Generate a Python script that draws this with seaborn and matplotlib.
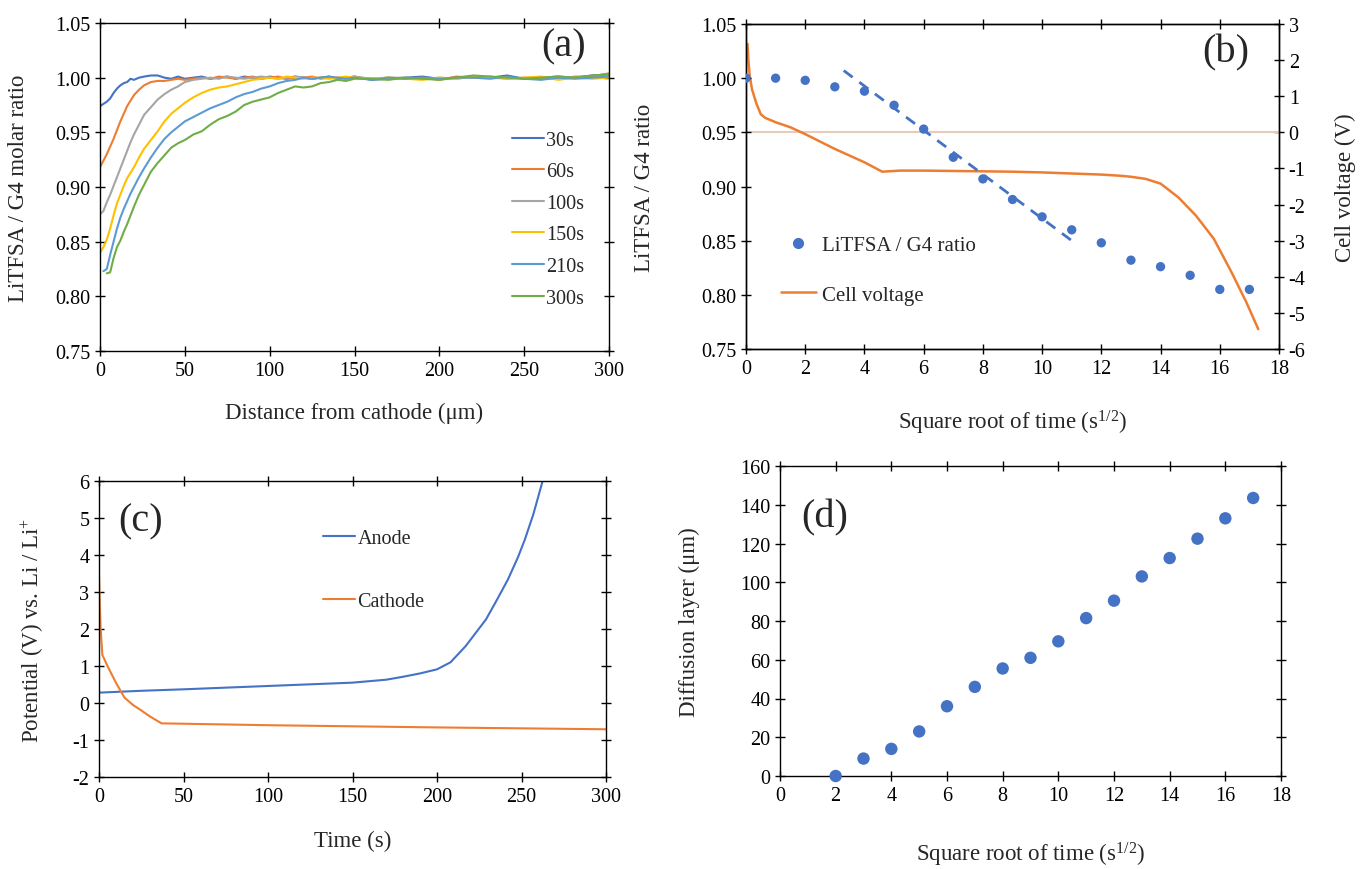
import numpy as np
import pandas as pd
import seaborn as sns
import matplotlib.pyplot as plt

# ---- (a) concentration profiles ----
dist = [0, 2, 4, 6, 8, 10, 12, 14, 16, 18, 20, 23, 26, 30, 34, 38, 42, 46, 50,
        55, 60, 65, 70, 75, 80, 85, 90, 95, 100, 105, 110, 115, 120, 125, 130,
        135, 140, 145, 150, 160, 170, 180, 190, 200, 210, 220, 230, 240, 250,
        260, 270, 280, 290, 300]
r_30s = [0.974, 0.976, 0.978, 0.981, 0.986, 0.990, 0.993, 0.995, 0.996, 0.999, 0.998,
         1.000, 1.001, 1.002, 1.002, 1.000, 0.999, 1.001, 0.999, 1.000, 1.001, 0.999,
         1.000, 1.001, 0.999, 1.001, 1.000, 0.999, 1.001, 1.000, 0.999, 1.001, 1.000,
         0.999, 1.000, 1.001, 0.999, 1.000, 1.001, 0.998, 0.999, 1.000, 1.001, 0.999,
         1.000, 1.001, 1.000, 1.002, 0.999, 1.000, 1.001, 1.000, 1.002, 1.003]
r_60s = [0.918, 0.924, 0.930, 0.937, 0.944, 0.952, 0.960, 0.967, 0.974, 0.979, 0.984,
         0.989, 0.993, 0.996, 0.997, 0.997, 0.998, 0.999, 0.998, 0.999, 1.000, 0.999,
         1.001, 1.000, 0.999, 1.000, 1.001, 0.999, 1.000, 1.001, 0.999, 1.000, 1.000,
         1.001, 0.999, 1.000, 1.000, 0.999, 1.000, 0.999, 1.000, 0.999, 1.000, 0.998,
         1.001, 1.000, 1.001, 0.999, 1.000, 1.000, 0.999, 1.001, 1.001, 1.004]
r_100s = [0.875, 0.878, 0.886, 0.893, 0.901, 0.909, 0.917, 0.925, 0.933, 0.941, 0.948,
          0.957, 0.966, 0.973, 0.980, 0.985, 0.989, 0.992, 0.996, 0.998, 0.999, 1.000,
          0.999, 1.001, 1.000, 0.999, 1.000, 1.001, 1.000, 0.999, 1.000, 1.001, 1.000,
          0.999, 1.000, 1.000, 0.999, 1.000, 1.001, 0.999, 1.000, 1.000, 0.999, 1.000,
          0.999, 1.001, 1.000, 1.000, 0.999, 1.000, 1.001, 1.000, 1.000, 1.002]
r_150s = [0.840, 0.845, 0.852, 0.862, 0.874, 0.885, 0.893, 0.901, 0.908, 0.913, 0.918,
          0.927, 0.935, 0.943, 0.951, 0.960, 0.967, 0.972, 0.977, 0.982, 0.986, 0.989,
          0.991, 0.992, 0.994, 0.996, 0.998, 0.999, 1.000, 0.999, 1.001, 1.000, 0.999,
          1.000, 1.000, 0.999, 1.000, 1.001, 1.000, 0.999, 1.000, 0.999, 0.998, 1.000,
          0.999, 1.001, 1.000, 0.999, 1.000, 1.001, 0.998, 1.000, 0.999, 1.000]
r_210s = [np.nan, 0.823, 0.825, 0.838, 0.850, 0.862, 0.872, 0.880, 0.887, 0.894, 0.900,
          0.909, 0.917, 0.927, 0.936, 0.944, 0.950, 0.955, 0.960, 0.964, 0.968, 0.972,
          0.975, 0.978, 0.982, 0.985, 0.987, 0.990, 0.992, 0.995, 0.997, 0.998, 1.000,
          0.999, 1.000, 1.001, 1.000, 0.999, 1.000, 0.998, 1.000, 0.999, 1.000, 0.999,
          1.000, 1.000, 0.999, 1.001, 0.999, 0.998, 1.000, 0.999, 1.000, 1.001]
r_300s = [np.nan, np.nan, 0.821, 0.822, 0.835, 0.845, 0.851, 0.859, 0.866, 0.874, 0.882,
          0.893, 0.902, 0.914, 0.922, 0.929, 0.936, 0.940, 0.943, 0.948, 0.951, 0.957,
          0.962, 0.965, 0.969, 0.975, 0.978, 0.980, 0.982, 0.986, 0.989, 0.992, 0.991,
          0.992, 0.995, 0.996, 0.998, 0.997, 0.999, 0.999, 0.998, 1.000, 0.999, 0.998,
          1.000, 1.002, 1.001, 1.000, 0.999, 1.000, 1.001, 1.000, 1.002, 1.003]
profile_labels = ['30s', '60s', '100s', '150s', '210s', '300s']
profile_colors = ['#4472C4', '#ED7D31', '#A5A5A5', '#FFC000', '#5B9BD5', '#70AD47']

# ---- (b) ratio vs sqrt(t) and cell voltage ----
sqrt_t = [0, 1, 2, 3, 4, 5, 6, 7, 8, 9, 10, 11, 12, 13, 14, 15, 16, 17]
ratio_b = [1.000, 1.000, 0.998, 0.992, 0.988, 0.975, 0.953, 0.927, 0.907, 0.888,
           0.872, 0.860, 0.848, 0.832, 0.826, 0.818, 0.805, 0.805]
fit_x = [3.3, 11.1]
fit_y = [1.007, 0.848]
cv_x = [0.05, 0.08, 0.12, 0.2, 0.35, 0.5, 0.65, 1.0, 1.5, 2.0, 3.0, 4.0, 4.6, 5.2,
        6.0, 7.0, 8.0, 9.0, 10.0, 11.0, 12.0, 12.6, 13.0, 13.5, 14.0, 14.6, 15.2,
        15.8, 16.4, 16.9, 17.3]
cv_y = [2.45, 2.0, 1.6, 1.2, 0.8, 0.5, 0.4, 0.28, 0.14, -0.05, -0.46, -0.83, -1.09,
        -1.06, -1.06, -1.07, -1.08, -1.09, -1.11, -1.14, -1.17, -1.20, -1.23, -1.29,
        -1.42, -1.80, -2.31, -2.95, -3.88, -4.71, -5.45]

# ---- (c) electrode potentials ----
t_anode = [0, 25, 50, 100, 150, 170, 180, 190, 200, 208, 217, 223, 229, 235, 242,
           248, 252, 257, 262.5]
v_anode = [0.28, 0.33, 0.37, 0.46, 0.55, 0.63, 0.71, 0.80, 0.91, 1.10, 1.54, 1.90,
           2.26, 2.75, 3.34, 3.95, 4.42, 5.10, 6.0]
t_cathode = [0, 0.5, 1, 2, 5, 10, 15, 20, 25, 30, 37, 100, 200, 300]
v_cathode = [3.43, 2.6, 2.0, 1.3, 1.0, 0.55, 0.15, -0.05, -0.2, -0.36, -0.55, -0.6,
             -0.66, -0.71]

# ---- (d) diffusion layer ----
sqrt_t_d = [2, 3, 4, 5, 6, 7, 8, 9, 10, 11, 12, 13, 14, 15, 16, 17]
layer_d = [0, 9, 14, 23, 36, 46, 55.5, 61, 69.5, 81.5, 90.5, 103, 112.5, 122.5, 133, 143.5]

sns.set_theme(style="ticks")
plt.rcParams['font.family'] = ['Liberation Serif', 'DejaVu Serif']
plt.rcParams['mathtext.default'] = 'regular'
plt.rcParams['axes.unicode_minus'] = False
plt.rcParams['axes.edgecolor'] = 'black'
plt.rcParams['axes.linewidth'] = 1.0

W, H = 1364, 870
fig = plt.figure(figsize=(W / 100, H / 100), dpi=100)


def box(l, t, r, b):
    return [l / W, 1 - b / H, (r - l) / W, (b - t) / H]


ax_a = fig.add_axes(box(100, 24, 609, 352))
ax_b = fig.add_axes(box(746, 25, 1279, 350))
ax_c = fig.add_axes(box(99, 482, 606, 778))
ax_d = fig.add_axes(box(780, 467, 1281, 777))

TICK = 14.5
LAB = 16.5


def style(ax, right=True):
    ax.tick_params(direction='inout', length=7, width=1, top=True, right=right,
                   labelsize=TICK, colors='black')
    for s in ax.spines.values():
        s.set_color('black')


# (a)
for lab, col, vals in zip(profile_labels, profile_colors,
                          [r_30s, r_60s, r_100s, r_150s, r_210s, r_300s]):
    d = pd.DataFrame({'dist': dist, 'ratio': vals}).dropna()
    sns.lineplot(data=d, x='dist', y='ratio', ax=ax_a, color=col, lw=1.5, label=lab)
ax_a.set_xlim(0, 300)
ax_a.set_ylim(0.75, 1.05)
ax_a.set_xticks(range(0, 301, 50))
ax_a.set_yticks(np.arange(0.75, 1.051, 0.05))
ax_a.yaxis.set_major_formatter(plt.FormatStrFormatter('%.2f'))
ax_a.set_xlabel('Distance from cathode (μm)', fontsize=LAB)
ax_a.set_ylabel('LiTFSA / G4 molar ratio', fontsize=LAB)
ax_a.xaxis.set_label_coords(0.5, -0.155)
ax_a.yaxis.set_label_coords(-0.14, 0.5)
style(ax_a)
ax_a.legend(loc='upper left', bbox_to_anchor=(0.809, 0.672), frameon=False,
            fontsize=TICK, handlelength=1.6, handletextpad=0.1, labelspacing=0.62,
            borderpad=0, borderaxespad=0)
ax_a.text(0.91, 0.93, '(a)', transform=ax_a.transAxes, fontsize=29, ha='center', va='center')

# (b)
ax_b2 = ax_b.twinx()
ax_b2.axhline(0, color='#E8CBBB', lw=1.5, zorder=1)
sns.lineplot(x=cv_x, y=cv_y, ax=ax_b2, color='#ED7D31', lw=1.8, sort=False)
sns.lineplot(x=fit_x, y=fit_y, ax=ax_b, color='#4472C4', lw=2, linestyle=(0, (4, 3)))
sns.scatterplot(x=sqrt_t, y=ratio_b, ax=ax_b, color='#4472C4', s=45, edgecolor='none',
                zorder=3)
ax_b.set_zorder(ax_b2.get_zorder() + 1)
ax_b.patch.set_visible(False)
ax_b.set_xlim(0, 18)
ax_b.set_ylim(0.75, 1.05)
ax_b.set_xticks(range(0, 19, 2))
ax_b.set_yticks(np.arange(0.75, 1.051, 0.05))
ax_b.yaxis.set_major_formatter(plt.FormatStrFormatter('%.2f'))
ax_b2.set_ylim(-6, 3)
ax_b2.set_yticks(range(-6, 4))
ax_b.set_xlabel('Square root of time (s$^{1/2}$)', fontsize=LAB)
ax_b.set_ylabel('LiTFSA / G4 ratio', fontsize=LAB)
ax_b2.set_ylabel('Cell voltage (V)', fontsize=LAB)
ax_b.xaxis.set_label_coords(0.5, -0.18)
ax_b.yaxis.set_label_coords(-0.17, 0.5)
ax_b2.yaxis.set_label_coords(1.105, 0.5)
style(ax_b, right=False)
ax_b2.tick_params(direction='inout', length=7, width=1, labelsize=TICK, colors='black')
h_pts = plt.Line2D([], [], ls='none', marker='o', color='#4472C4', markersize=7)
h_cv = plt.Line2D([], [], color='#ED7D31', lw=1.8)
ax_b.legend([h_pts, h_cv], ['LiTFSA / G4 ratio', 'Cell voltage'], loc='upper left',
            bbox_to_anchor=(0.066, 0.35), frameon=False, fontsize=TICK + 0.5,
            handlelength=1.65, handletextpad=0.3, labelspacing=1.45,
            borderpad=0, borderaxespad=0)
ax_b.text(0.90, 0.914, '(b)', transform=ax_b.transAxes, fontsize=29, ha='center', va='center')

# (c)
sns.lineplot(x=t_anode, y=v_anode, ax=ax_c, color='#4472C4', lw=1.5, label='Anode')
sns.lineplot(x=t_cathode, y=v_cathode, ax=ax_c, color='#ED7D31', lw=1.5, label='Cathode')
ax_c.set_xlim(0, 300)
ax_c.set_ylim(-2, 6)
ax_c.set_xticks(range(0, 301, 50))
ax_c.set_yticks(range(-2, 7))
ax_c.set_xlabel('Time (s)', fontsize=LAB)
ax_c.set_ylabel('Potential (V) vs. Li / Li$^{+}$', fontsize=LAB)
ax_c.xaxis.set_label_coords(0.5, -0.18)
ax_c.yaxis.set_label_coords(-0.105, 0.5)
style(ax_c)
ax_c.legend(loc='upper left', bbox_to_anchor=(0.442, 0.838), frameon=False,
            fontsize=TICK, handlelength=1.6, handletextpad=0.1, labelspacing=2.2,
            borderpad=0, borderaxespad=0)
ax_c.text(0.081, 0.865, '(c)', transform=ax_c.transAxes, fontsize=29, ha='center', va='center')

# (d)
sns.scatterplot(x=sqrt_t_d, y=layer_d, ax=ax_d, color='#4472C4', s=80, edgecolor='none',
                zorder=3, clip_on=False)
ax_d.set_xlim(0, 18)
ax_d.set_ylim(0, 160)
ax_d.set_xticks(range(0, 19, 2))
ax_d.set_yticks(range(0, 161, 20))
ax_d.set_xlabel('Square root of time (s$^{1/2}$)', fontsize=LAB)
ax_d.set_ylabel('Diffusion layer (μm)', fontsize=LAB)
ax_d.xaxis.set_label_coords(0.5, -0.205)
ax_d.yaxis.set_label_coords(-0.16, 0.5)
style(ax_d)
ax_d.text(0.09, 0.835, '(d)', transform=ax_d.transAxes, fontsize=29, ha='center', va='center')

fig.savefig('out.png', dpi=100)
